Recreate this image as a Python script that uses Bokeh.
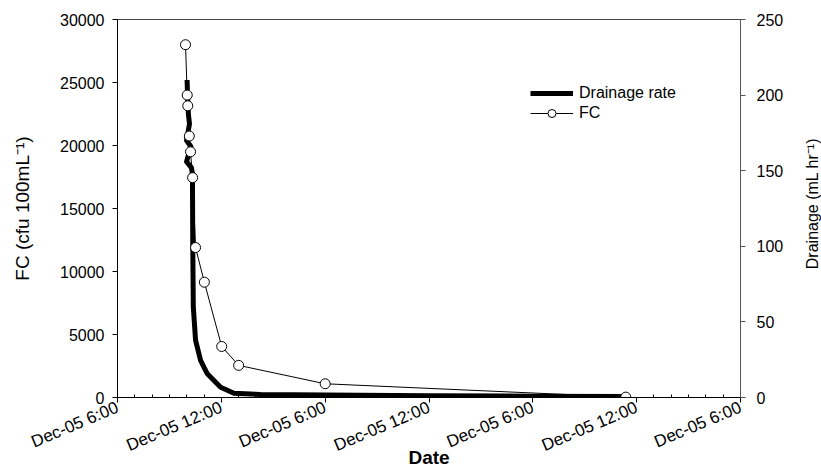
from bokeh.plotting import figure
from bokeh.models import Range1d, LinearAxis, FixedTicker, Legend, LegendItem, Label
from bokeh.layouts import row
from bokeh.embed import file_html
from bokeh.resources import INLINE
import math

# ---- data (hours since Dec-05 0:00) ----
drain_hours = [10.02, 10.05, 10.10, 10.16, 9.99, 10.24, 9.99, 10.27, 10.33,
               10.35, 10.38, 10.51, 10.80, 11.19, 11.96, 12.73, 14.28, 18.0,
               24.0, 30.0, 35.3]
drain_rate = [210, 199, 187, 181, 170, 166, 156, 152, 148,
              100, 60, 38, 24.5, 15.7, 6.8, 2.8, 2.0, 1.6,
              1.2, 0.9, 0.6]

fc_hours = [9.93, 10.03, 10.06, 10.15, 10.22, 10.34, 10.51, 11.02, 12.02,
            13.00, 18.00, 35.37]
fc_values = [28000, 24000, 23150, 20750, 19500, 17450, 11900, 9150, 4050,
             2550, 1090, 30]

x_ticks = [6, 12, 18, 24, 30, 36, 42]
x_tick_labels = ["Dec-05 6:00", "Dec-05 12:00", "Dec-05 6:00", "Dec-05 12:00",
                 "Dec-05 6:00", "Dec-05 12:00", "Dec-05 6:00"]
x_minor = [h for h in range(7, 42) if h % 6 != 0]
left_ticks = [0, 5000, 10000, 15000, 20000, 25000, 30000]
right_ticks = [0, 50, 100, 150, 200, 250]

FONT = "Liberation Sans"
FW, FH = 623, 378
TOP, BOTTOM, LEFT, RIGHT = 19, 72, 117, 63
TOTAL_H = TOP + FH + BOTTOM

p = figure(frame_width=FW, frame_height=FH, x_range=Range1d(6, 42), y_range=Range1d(0, 30000),
           output_backend="svg", toolbar_location=None,
           min_border_left=LEFT, min_border_right=RIGHT, min_border_top=TOP,
           min_border_bottom=BOTTOM)
p.extra_y_ranges = {"drain": Range1d(0, 250)}

p.xgrid.visible = False
p.ygrid.visible = False
p.outline_line_color = "#444444"
p.background_fill_color = "white"
p.border_fill_color = "white"

def style_axis(ax, line_color="black"):
    ax.major_label_text_font = FONT
    ax.major_label_text_font_size = "16px"
    ax.major_label_text_color = "black"
    ax.axis_label_text_font = FONT
    ax.axis_label_text_color = "black"
    ax.axis_label_text_font_style = "normal"
    ax.major_tick_out = 5
    ax.major_tick_in = 0
    ax.minor_tick_out = 0
    ax.minor_tick_in = 0
    ax.axis_line_color = line_color
    ax.major_tick_line_color = line_color

# x axis
xa = p.xaxis[0]
style_axis(xa)
xa.ticker = FixedTicker(ticks=x_ticks, minor_ticks=x_minor)
xa.major_label_overrides = {t: l for t, l in zip(x_ticks, x_tick_labels)}
xa.major_label_orientation = 0.40
xa.major_label_text_font_size = "17px"
xa.major_label_standoff = 4
xa.minor_tick_in = 3
xa.minor_tick_line_color = "black"
xa.axis_label = "Date"
xa.axis_label_text_font_style = "bold"
xa.axis_label_text_font_size = "19px"
xa.axis_label_standoff = -20

# left axis
ya = p.yaxis[0]
style_axis(ya)
ya.ticker = FixedTicker(ticks=left_ticks)
ya.major_label_standoff = 8
ya.axis_label = "FC (cfu 100mL⁻¹)"
ya.axis_label_text_font_size = "19px"
ya.axis_label_standoff = 24

# right axis (its title is drawn in a narrow side figure)
ra = LinearAxis(y_range_name="drain", ticker=FixedTicker(ticks=right_ticks))
style_axis(ra, "#555555")
ra.major_label_standoff = 11
p.add_layout(ra, "right")

# glyphs
r_drain = p.line(drain_hours, drain_rate, y_range_name="drain",
                 line_color="black", line_width=5, line_join="round")
r_fcl = p.line(fc_hours, fc_values, line_color="black", line_width=1)
r_fcp = p.scatter(fc_hours, fc_values, marker="circle", size=10,
                  fill_color="white", line_color="black", line_width=1)

legend = Legend(items=[LegendItem(label="Drainage rate", renderers=[r_drain]),
                       LegendItem(label="FC", renderers=[r_fcl, r_fcp])],
                location=(413, 274), padding=0, margin=0, spacing=0,
                glyph_width=43, glyph_height=20, label_height=20,
                label_standoff=6, label_text_font=FONT,
                label_text_font_size="16px", label_text_color="black",
                background_fill_alpha=0, border_line_alpha=0)
p.add_layout(legend)

# narrow side figure holding the right-axis title (reads bottom to top)
SIDE_W = 18
side = figure(width=SIDE_W, height=TOTAL_H, x_range=Range1d(0, SIDE_W),
              y_range=Range1d(0, TOTAL_H), output_backend="svg",
              toolbar_location=None, x_axis_location=None, y_axis_location=None,
              min_border=0, min_border_left=0, min_border_right=0,
              min_border_top=0, min_border_bottom=0)
side.xgrid.visible = False
side.ygrid.visible = False
side.outline_line_color = None
side.background_fill_color = "white"
side.border_fill_color = "white"
side.add_layout(Label(x=SIDE_W / 2, y=TOTAL_H - (TOP + FH / 2) - 21,
                      text="Drainage (mL hr⁻¹)", angle=math.pi / 2,
                      text_align="center", text_baseline="middle",
                      text_font=FONT, text_font_size="16px", text_color="black"))

layout = row(p, side, spacing=0)
open("out.html", "w").write(file_html(layout, INLINE))
